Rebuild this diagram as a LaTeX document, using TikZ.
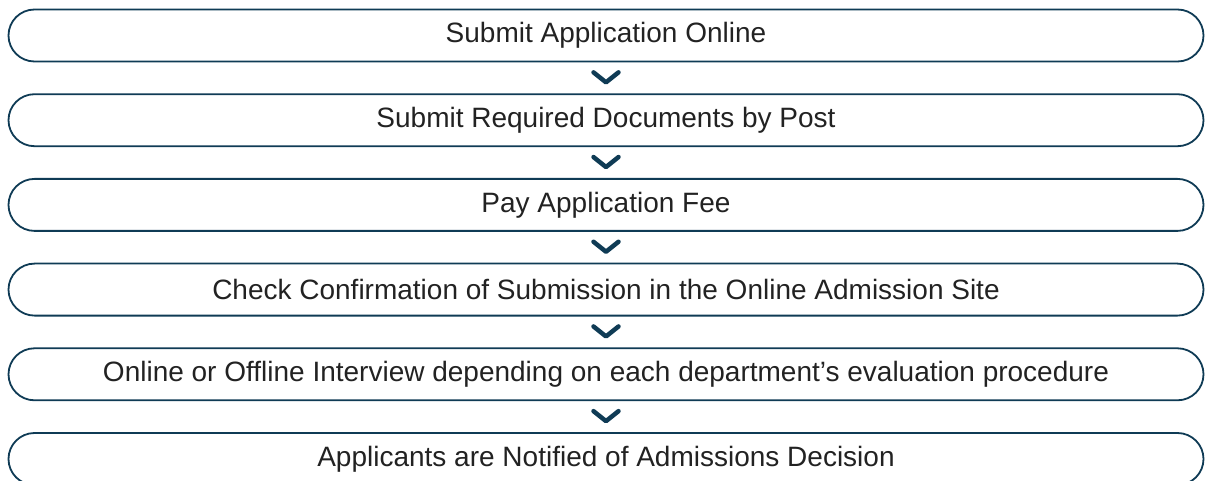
\documentclass[tikz,border=0pt]{standalone}
\usepackage{fontspec}
\setmainfont{Liberation Sans}
\usepackage{xcolor}
\usetikzlibrary{shapes.misc,positioning,calc}
\definecolor{navy}{HTML}{0F3B55}
\definecolor{inkgray}{HTML}{222222}

\begin{document}
\begin{tikzpicture}[x=1pt,y=1pt,
    stepbox/.style={rounded rectangle, draw=navy, line width=1.8pt,
        minimum width=1195pt, minimum height=52pt, inner sep=0pt,
        text=inkgray, font=\fontsize{28}{32}\selectfont},
    chevron/.style={draw=navy, line width=4.5pt, line cap=round, line join=round}]
    \useasboundingbox (0,0) rectangle (1205,-481);

    \node[stepbox] (s1) at (606,-35.5) {Submit Application Online};
    \node[stepbox, below=30.9pt of s1] (s2) {Submit Required Documents by Post};
    \node[stepbox, below=30.9pt of s2] (s3) {Pay Application Fee};
    \node[stepbox, below=30.9pt of s3] (s4) {Check Confirmation of Submission in the Online Admission Site};
    \node[stepbox, below=30.9pt of s4] (s5) {Online or Offline Interview depending on each department’s evaluation procedure};
    \node[stepbox, below=30.9pt of s5] (s6) {Applicants are Notified of Admissions Decision};

    % chevrons between steps
    \foreach \a/\b in {s1/s2,s2/s3,s3/s4,s4/s5,s5/s6}
        \draw[chevron] ($(\a.south)!0.5!(\b.north)$) +(-12.5,5.5) -- +(0,-4.5) -- +(12.5,5.5);
\end{tikzpicture}
\end{document}
